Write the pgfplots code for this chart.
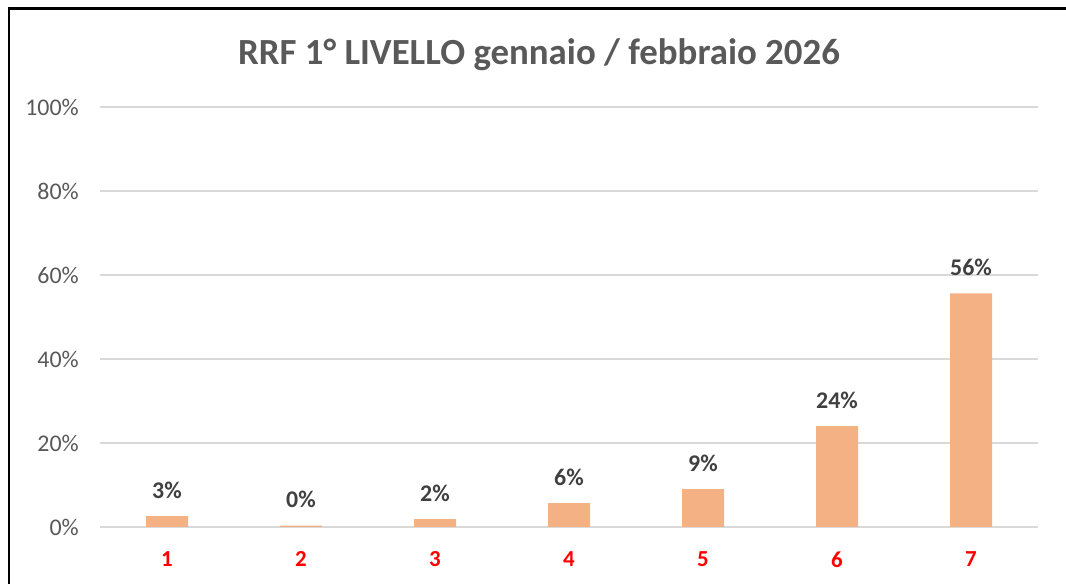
\documentclass[border=0pt]{standalone}
\usepackage{fontspec}
\setmainfont{Carlito}
\usepackage{pgfplots}
\pgfplotsset{compat=1.18}
\definecolor{barc}{HTML}{F4B183}
\definecolor{gridc}{HTML}{D9D9D9}
\definecolor{tickc}{HTML}{595959}
\definecolor{labc}{HTML}{404040}
\begin{document}
\begin{tikzpicture}
\path[use as bounding box] (0,0) rectangle (1066bp,584bp);
\draw[line width=2.5bp] (9bp,-2bp) -- (9bp,575.5bp) -- (1068bp,575.5bp);
\node[font=\fontsize{37}{40}\selectfont\bfseries, text=tickc, anchor=base, inner sep=0] at (539bp,519bp) {RRF 1° LIVELLO gennaio / febbraio 2026};
\begin{axis}[
  at={(100bp,57bp)}, anchor=south west,
  scale only axis, width=938bp, height=420bp,
  xmin=0.5, xmax=7.5, ymin=0, ymax=100,
  clip=false,
  axis line style={draw=none},
  major tick length=0pt,
  ytick={0,20,40,60,80,100},
  yticklabels={0\%,20\%,40\%,60\%,80\%,100\%},
  yticklabel style={font=\fontsize{24}{26}\selectfont, text=tickc, anchor=east, inner sep=0pt, xshift=-21bp},
  xtick={1,2,3,4,5,6,7},
  xticklabels={1,2,3,4,5,6,7},
  xticklabel style={font=\fontsize{23}{26}\selectfont\bfseries, text=red, anchor=north, inner sep=0pt, yshift=-24.5bp},
  ymajorgrids,
  grid style={gridc, line width=1.6bp},
  ybar, bar width=42bp,
  point meta=explicit symbolic,
  nodes near coords,
  every node near coord/.append style={font=\fontsize{24}{26}\selectfont\bfseries, text=labc, anchor=base, inner sep=0pt, yshift=18bp},
]
\addplot[fill=barc, draw=none] coordinates {
  (1,2.6) [3\%]
  (2,0.3) [0\%]
  (3,1.9) [2\%]
  (4,5.7) [6\%]
  (5,9.0) [9\%]
  (6,24.0) [24\%]
  (7,55.6) [56\%]
};
\end{axis}
\end{tikzpicture}
\end{document}
